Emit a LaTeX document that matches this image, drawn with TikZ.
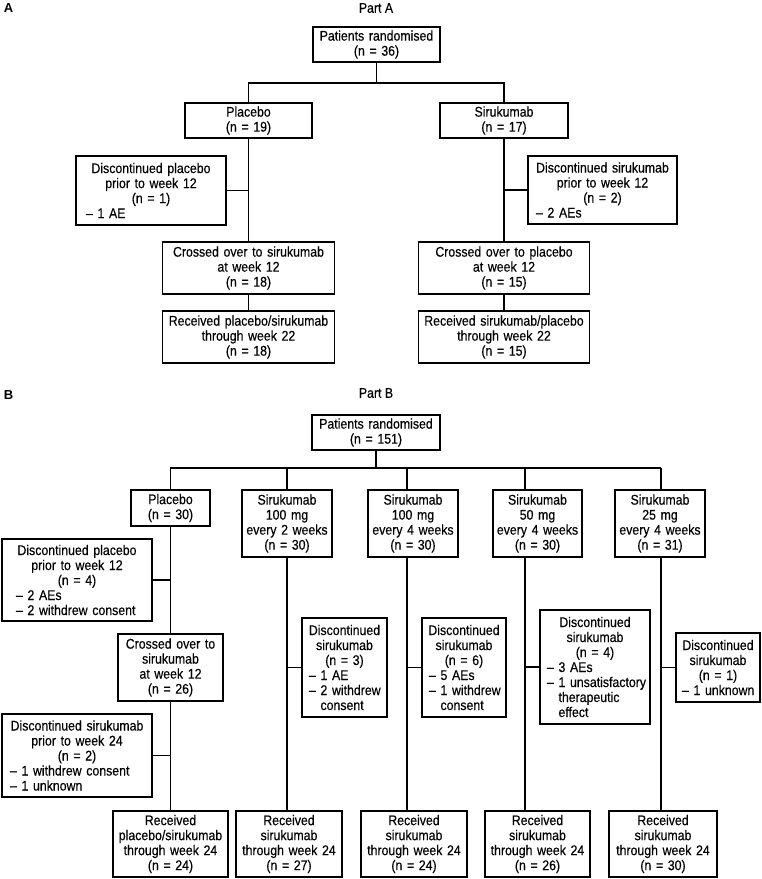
\documentclass[tikz,border=0pt]{standalone}
\usepackage{fontspec}
\setmainfont{Liberation Sans}[FakeStretch=0.88,FakeBold=0.35]
\newfontfamily\lblfont{Liberation Sans}
\newcommand{\dl}[2][8]{\makebox[\hsize][l]{\hspace*{#1pt}#2}}
\begin{document}
\begin{tikzpicture}[x=1pt,y=-1pt,
  every node/.style={font=\fontsize{14}{15}\selectfont},
  box/.style={draw, line width=1.4pt, inner sep=0pt, align=center},
  ln/.style={line width=1.4pt},
  lbl/.style={font=\lblfont\bfseries\fontsize{13}{15}\selectfont}]
\useasboundingbox (0,0) rectangle (762,879);

% ---------------- Part A ----------------
\node[lbl] (labA) at (8.5,8) {A};
\node (titA) at (376,8) {Part A};

\node[box, text width=127pt, minimum height=35pt] (pA) at (376.5,44.5) {Patients randomised\\(n = 36)};
\node[box, text width=127pt, minimum height=35pt] (plA) at (248.5,120.5) {Placebo\\(n = 19)};
\node[box, text width=128pt, minimum height=35pt] (siA) at (504,120.5) {Sirukumab\\(n = 17)};
\node[box, text width=150pt, minimum height=69pt] (dpA) at (151,190.5) {Discontinued placebo\\prior to week 12\\(n = 1)\\\dl[10]{– 1 AE}};
\node[box, text width=149pt, minimum height=68pt] (dsA) at (602.5,190) {Discontinued sirukumab\\prior to week 12\\(n = 2)\\\dl[8]{– 2 AEs}};
\node[box, text width=172pt, minimum height=52pt] (cxA1) at (248.5,268) {Crossed over to sirukumab\\at week 12\\(n = 18)};
\node[box, text width=171pt, minimum height=52pt] (cxA2) at (504,268) {Crossed over to placebo\\at week 12\\(n = 15)};
\node[box, text width=172pt, minimum height=52pt] (rcA1) at (248.5,337) {Received placebo/sirukumab\\through week 22\\(n = 18)};
\node[box, text width=171pt, minimum height=52pt] (rcA2) at (504,337) {Received sirukumab/placebo\\through week 22\\(n = 15)};

\coordinate (hA) at (376.5,83);
\draw[ln] (pA.south) -- (hA);
\draw[ln] (plA.north) |- (hA) -| (siA.north);
\draw[ln] (plA.south) -- (cxA1.north);
\draw[ln] (cxA1.south) -- (rcA1.north);
\draw[ln] (siA.south) -- (cxA2.north);
\draw[ln] (cxA2.south) -- (rcA2.north);
\draw[ln] (dpA.east) -- (dpA.east -| plA.south);
\draw[ln] (dsA.west) -- (dsA.west -| siA.south);

% ---------------- Part B ----------------
\node[lbl] (labB) at (8.5,395) {B};
\node (titB) at (376,393) {Part B};

\node[box, text width=128pt, minimum height=35pt] (pB) at (376,432.5) {Patients randomised\\(n = 151)};
\node[box, text width=79pt, minimum height=36pt] (plB) at (170.5,508) {Placebo\\(n = 30)};
\node[box, text width=90pt, minimum height=67pt] (s1) at (287,523.5) {Sirukumab\\100 mg\\every 2 weeks\\(n = 30)};
\node[box, text width=90pt, minimum height=67pt] (s2) at (413,523.5) {Sirukumab\\100 mg\\every 4 weeks\\(n = 30)};
\node[box, text width=89pt, minimum height=67pt] (s3) at (537.5,523.5) {Sirukumab\\50 mg\\every 4 weeks\\(n = 30)};
\node[box, text width=90pt, minimum height=67pt] (s4) at (660,523.5) {Sirukumab\\25 mg\\every 4 weeks\\(n = 31)};

\node[box, text width=150pt, minimum height=82pt] (dpB) at (77,580) {Discontinued placebo\\prior to week 12\\(n = 4)\\\dl[14]{– 2 AEs}\\\dl[14]{– 2 withdrew consent}};
\node[box, text width=105pt, minimum height=67pt] (cxB) at (170.5,667.5) {Crossed over to\\sirukumab\\at week 12\\(n = 26)};
\node[box, text width=150pt, minimum height=83pt] (dsB) at (77,755.5) {Discontinued sirukumab\\prior to week 24\\(n = 2)\\\dl[8]{– 1 withdrew consent}\\\dl[8]{– 1 unknown}};
\node[box, text width=115pt, minimum height=66pt] (rB0) at (170.5,844) {Received\\placebo/sirukumab\\through week 24\\(n = 24)};

\node[box, text width=85pt, minimum height=99pt] (d1) at (344.5,667.5) {Discontinued\\sirukumab\\(n = 3)\\\dl[7]{– 1 AE}\\\dl[7]{– 2 withdrew}\\\dl[7]{\phantom{– }consent}};
\node[box, text width=84pt, minimum height=99pt] (d2) at (464,667.5) {Discontinued\\sirukumab\\(n = 6)\\\dl[7]{– 5 AEs}\\\dl[7]{– 1 withdrew}\\\dl[7]{\phantom{– }consent}};
\node[box, text width=110pt, minimum height=114pt] (d3) at (595,667) {Discontinued\\sirukumab\\(n = 4)\\\dl[7]{– 3 AEs}\\\dl[7]{– 1 unsatisfactory}\\\dl[7]{\phantom{– }therapeutic}\\\dl[7]{\phantom{– }effect}};
\node[box, text width=84pt, minimum height=69pt] (d4) at (718,667.5) {Discontinued\\sirukumab\\(n = 1)\\\dl[6]{– 1 unknown}};

\node[box, text width=106pt, minimum height=66pt] (r1) at (289,844) {Received\\sirukumab\\through week 24\\(n = 27)};
\node[box, text width=106pt, minimum height=66pt] (r2) at (414,844) {Received\\sirukumab\\through week 24\\(n = 24)};
\node[box, text width=105pt, minimum height=66pt] (r3) at (537.5,844) {Received\\sirukumab\\through week 24\\(n = 26)};
\node[box, text width=108pt, minimum height=66pt] (r4) at (663,844) {Received\\sirukumab\\through week 24\\(n = 30)};

\coordinate (hB) at (376,468);
\coordinate (v1) at (287,468);
\coordinate (v2) at (407,468);
\coordinate (v3) at (525,468);
\coordinate (v4) at (661,468);
\draw[ln] (pB.south) -- (hB);
\draw[ln] (plB.north) |- (v4);
\draw[ln] (v1) -- (v1 |- s1.north);
\draw[ln] (v2) -- (v2 |- s2.north);
\draw[ln] (v3) -- (v3 |- s3.north);
\draw[ln] (v4) -- (v4 |- s4.north);

\draw[ln] (plB.south) -- (cxB.north);
\draw[ln] (cxB.south) -- (rB0.north);
\draw[ln] (dpB.east) -- (dpB.east -| plB.south);
\draw[ln] (dsB.east) -- (dsB.east -| cxB.south);

\draw[ln] (v1 |- s1.south) -- (v1 |- r1.north);
\draw[ln] (v2 |- s2.south) -- (v2 |- r2.north);
\draw[ln] (v3 |- s3.south) -- (v3 |- r3.north);
\draw[ln] (v4 |- s4.south) -- (v4 |- r4.north);
\draw[ln] (v1 |- d1.west) -- (d1.west);
\draw[ln] (v2 |- d2.west) -- (d2.west);
\draw[ln] (v3 |- d3.west) -- (d3.west);
\draw[ln] (v4 |- d4.west) -- (d4.west);
\end{tikzpicture}
\end{document}
